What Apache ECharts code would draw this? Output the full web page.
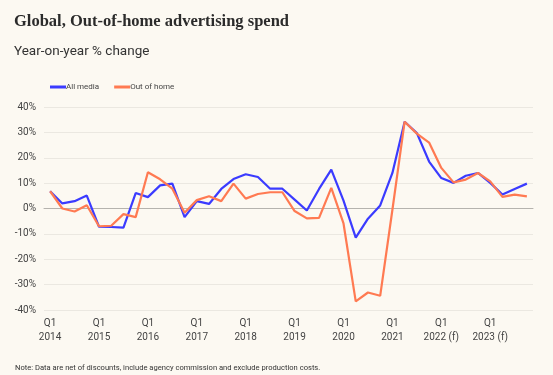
<!DOCTYPE html>
<html>
<head>
<meta charset="utf-8">
<script src="https://cdn.jsdelivr.net/npm/echarts@6/dist/echarts.min.js"></script>
<style>
  html, body { margin: 0; padding: 0; background: #fcf9f2; }
  #chart { width: 553px; height: 375px; }
</style>
</head>
<body>
<div id="chart"></div>
<script>
// years on the x axis, one Q1 label each
var years = ['2014', '2015', '2016', '2017', '2018', '2019', '2020', '2021', '2022 (f)', '2023 (f)'];
var quarters = ['Q1', 'Q2', 'Q3', 'Q4'];

// yoy % change, Q1 2014 .. Q4 2023
var allMedia = [
    6.8, 2.0, 2.9, 5.1,  -7.2, -7.3, -7.5, 6.1,
    4.5, 9.1, 9.8, -3.4,  2.9, 1.8, 7.7, 11.6,
    13.5, 12.4, 7.8, 7.8,  3.5, -0.8, 7.7, 15.3,
    3.1, -11.5, -4.0, 1.2,  14.0, 34.2, 29.7, 18.5,
    12.0, 10.1, 12.9, 14.0,  10.1, 5.5, 7.7, 9.8
];
var outOfHome = [
    6.8, 0.0, -1.2, 1.3,  -7.0, -6.8, -2.2, -3.4,
    14.3, 11.5, 7.8, -1.7,  3.3, 4.8, 2.9, 9.8,
    3.9, 5.7, 6.4, 6.4,  -1.0, -3.9, -3.7, 8.1,
    -5.9, -36.6, -33.1, -34.4,  -0.5, 34.2, 29.5, 26.0,
    16.0, 10.3, 11.4, 14.0,  10.7, 4.6, 5.5, 4.8
];

var categories = [];
years.forEach(function (y) {
    quarters.forEach(function (q) { categories.push(q + '\n' + y); });
});

var myChart = echarts.init(document.getElementById('chart'));
var option = {
    backgroundColor: '#fcf9f2',
    animation: false,
    title: [{
        text: 'Global, Out-of-home advertising spend',
        left: 9, top: 8,
        textStyle: { fontFamily: 'Liberation Serif', fontWeight: 'bold', fontSize: 16.5, color: '#2b2b2b' }
    }, {
        text: 'Year-on-year % change',
        left: 9, top: 40,
        textStyle: { fontFamily: 'Roboto', fontWeight: 'normal', fontSize: 13.5, color: '#333' }
    }, {
        text: 'Note: Data are net of discounts, include agency commission and exclude production costs.',
        left: 10, top: 359,
        textStyle: { fontFamily: 'Roboto', fontWeight: 'normal', fontSize: 7.6, color: '#333' }
    }],
    legend: {
        left: 45, top: 78,
        itemWidth: 16, itemHeight: 3, itemGap: 15,
        icon: 'rect',
        textStyle: { fontFamily: 'Roboto', fontSize: 8, color: '#444', padding: [0, 0, 0, -5] },
        data: ['All media', 'Out of home']
    },
    grid: { left: 44, right: 20, top: 107, bottom: 65 },
    xAxis: {
        type: 'category',
        data: categories,
        boundaryGap: true,
        axisLine: { lineStyle: { color: '#b5b3ae', width: 1 } },
        axisTick: { show: false },
        axisLabel: {
            interval: 3,
            margin: 6,
            fontFamily: 'Roboto', fontSize: 10, color: '#444', lineHeight: 14
        }
    },
    yAxis: {
        type: 'value',
        min: -40, max: 40, interval: 10,
        axisLine: { show: false },
        axisTick: { show: false },
        axisLabel: {
            margin: 8,
            formatter: '{value}%',
            fontFamily: 'Roboto', fontSize: 10, color: '#444'
        },
        splitLine: { lineStyle: { color: '#ebe8e1', width: 1 } }
    },
    series: [{
        name: 'All media',
        type: 'line',
        data: allMedia,
        symbol: 'none',
        color: '#3b3bff',
        lineStyle: { width: 2.2, color: '#3b3bff' },
        z: 3
    }, {
        name: 'Out of home',
        type: 'line',
        data: outOfHome,
        symbol: 'none',
        color: '#ff7a52',
        lineStyle: { width: 2.2, color: '#ff7a52' },
        z: 4
    }]
};
myChart.setOption(option, true);
</script>
</body>
</html>
